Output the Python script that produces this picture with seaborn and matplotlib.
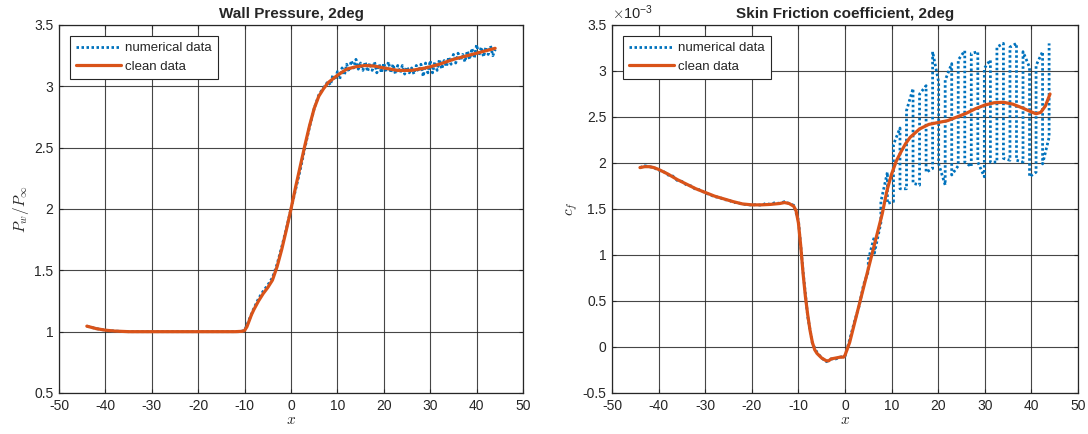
import numpy as np
import pandas as pd
import matplotlib
matplotlib.use("Agg")
import matplotlib.pyplot as plt
from matplotlib.ticker import FuncFormatter, MultipleLocator
import seaborn as sns

# ---------------- wall pressure, P_w / P_inf ----------------
p_clean_x = [-44, -42, -40, -38, -35, -30, -25, -20, -15, -12, -10.5, -10, -9.5, -9, -8.5,
             -8, -7, -6, -5, -4, -3, -2, -1, 0, 1, 2, 3, 4, 5, 6, 7, 8, 9, 10, 12, 14,
             16, 18, 20, 23, 26, 29, 32, 35, 38, 41, 44]
p_clean_y = [1.045, 1.025, 1.012, 1.005, 1.0, 1.0, 1.0, 1.0, 1.0, 1.0, 1.003, 1.01, 1.04,
             1.09, 1.14, 1.18, 1.25, 1.31, 1.36, 1.42, 1.53, 1.67, 1.83, 2.0, 2.18, 2.35,
             2.52, 2.68, 2.82, 2.92, 2.98, 3.03, 3.06, 3.09, 3.14, 3.16, 3.17, 3.165, 3.15,
             3.13, 3.13, 3.15, 3.18, 3.22, 3.25, 3.28, 3.31]

# stations: unit spacing upstream, half-unit spacing downstream of x = 8
p_num_x = np.concatenate([np.arange(-44, 8, 1.0), np.arange(8, 44.5, 0.5)])
p_num_y = [1.045, 1.035, 1.025, 1.018, 1.012, 1.008, 1.005, 1.003, 1.001,
           1.0, 1.0, 1.0, 1.0, 1.0, 1.0, 1.0, 1.0, 1.0, 1.0, 1.0, 1.0, 1.0, 1.0, 1.0,
           1.0, 1.0, 1.0, 1.0, 1.0, 1.0, 1.0, 1.0, 1.0, 1.0,
           1.01, 1.10, 1.19, 1.27, 1.33, 1.38, 1.44, 1.55, 1.69, 1.84, 2.0, 2.16,
           2.32, 2.50, 2.67, 2.82, 2.93, 2.99,
           3.04, 3.01, 3.09, 3.05, 3.12, 3.06, 3.15, 3.09, 3.18, 3.12, 3.21, 3.15,
           3.22, 3.14, 3.19, 3.13, 3.20, 3.12, 3.19, 3.13, 3.20, 3.11, 3.18, 3.11,
           3.19, 3.12, 3.20, 3.11, 3.18, 3.10, 3.17, 3.11, 3.17, 3.10, 3.16, 3.11,
           3.15, 3.10, 3.17, 3.12, 3.18, 3.08, 3.19, 3.11, 3.21, 3.11, 3.20, 3.13,
           3.22, 3.14, 3.21, 3.16, 3.24, 3.18, 3.26, 3.19, 3.27, 3.21, 3.26, 3.20,
           3.29, 3.22, 3.31, 3.23, 3.34, 3.25, 3.32, 3.24, 3.32, 3.26, 3.33, 3.25,
           3.30]

# ---------------- skin friction, c_f (x 1e-3) ----------------
cf_clean_x = [-44, -43, -42, -41, -40, -38, -36, -34, -32, -30, -28, -26, -24, -22, -20,
              -18, -16, -14, -13, -12, -11, -10.5, -10, -9.5, -9, -8.5, -8, -7.5, -7,
              -6.5, -6, -5, -4, -3.5, -3, -2, -1, -0.3, 0, 1, 2, 3, 4, 5, 6, 7, 8, 9,
              10, 11, 12, 13, 14, 16, 18, 20, 22, 24, 26, 28, 30, 32, 34, 36, 38, 40,
              41, 42, 43, 44]
cf_clean_y = [1.95, 1.96, 1.96, 1.95, 1.93, 1.88, 1.82, 1.77, 1.72, 1.68, 1.64, 1.61,
              1.58, 1.555, 1.545, 1.545, 1.55, 1.56, 1.57, 1.56, 1.53, 1.48, 1.35, 1.1,
              0.8, 0.55, 0.35, 0.18, 0.05, -0.03, -0.07, -0.12, -0.15, -0.15, -0.13,
              -0.12, -0.11, -0.11, -0.09, 0.05, 0.25, 0.45, 0.65, 0.85, 1.05, 1.25,
              1.45, 1.7, 1.88, 2.02, 2.12, 2.21, 2.28, 2.37, 2.42, 2.44, 2.46, 2.50,
              2.54, 2.59, 2.63, 2.655, 2.66, 2.64, 2.60, 2.555, 2.535, 2.55, 2.62, 2.75]

cf_smooth_x = np.arange(-44, 5, 1.0)
cf_smooth_y = [1.95, 1.97, 1.96, 1.95, 1.92, 1.91, 1.87, 1.86, 1.81, 1.80, 1.76, 1.75,
               1.71, 1.71, 1.67, 1.66, 1.63, 1.63, 1.60, 1.60, 1.57, 1.57, 1.55, 1.55,
               1.54, 1.55, 1.54, 1.56, 1.55, 1.57, 1.56, 1.58, 1.56, 1.54, 1.38, 0.82,
               0.33, 0.04, -0.06, -0.12, -0.16, -0.13, -0.13, -0.11, -0.10, 0.08, 0.27,
               0.44, 0.68]

# spanwise spread at each downstream station
cf_band_x = [5.0, 6.3, 7.7, 9.1, 10.4, 11.8, 13.2, 14.6, 16.0, 17.4, 18.8, 20.1, 21.5,
             22.9, 24.3, 25.7, 27.1, 28.5, 29.9, 31.2, 32.6, 34.0, 35.4, 36.8, 38.2,
             39.6, 41.0, 42.4, 43.8]
cf_band_lo = [0.82, 1.02, 1.35, 1.56, 1.58, 1.72, 1.72, 1.78, 1.76, 1.90, 1.94, 1.99,
              1.76, 1.87, 1.97, 2.01, 1.96, 2.01, 1.85, 2.01, 2.01, 2.05, 2.03, 2.03,
              2.01, 1.85, 1.90, 1.99, 2.28]
cf_band_hi = [0.95, 1.20, 1.58, 1.90, 2.20, 2.38, 2.57, 2.81, 2.75, 2.84, 3.21, 2.88,
              2.90, 3.08, 3.12, 3.22, 3.19, 3.21, 3.03, 3.12, 3.26, 3.30, 3.26, 3.30,
              3.21, 3.04, 3.06, 3.21, 3.30]

# trace the numerical curve through each station's spread, alternating direction
band_x, band_y = [], []
for i, (bx, lo, hi) in enumerate(zip(cf_band_x, cf_band_lo, cf_band_hi)):
    pair = (lo, hi) if i % 2 == 0 else (hi, lo)
    band_x += [bx, bx]
    band_y += list(pair)
cf_num_x = np.concatenate([cf_smooth_x, band_x])
cf_num_y = np.concatenate([cf_smooth_y, band_y])

BLUE = "#0072BD"
ORANGE = "#D95319"
DOTTED = (0, (0.9, 0.9))

sns.set_style("white")
plt.rcParams["font.family"] = ["Liberation Sans", "DejaVu Sans"]
plt.rcParams["mathtext.fontset"] = "cm"
plt.rcParams["axes.unicode_minus"] = False

fig = plt.figure(figsize=(10.88, 4.34), dpi=100)
ax1 = fig.add_axes([59 / 1088, 41 / 434, 464 / 1088, 368 / 434])
ax2 = fig.add_axes([612 / 1088, 41 / 434, 466 / 1088, 368 / 434])

fmt = FuncFormatter(lambda v, pos: f"{v:g}")


def style_axes(ax, ylim, title, ylabel):
    ax.set_xlim(-50, 50)
    ax.set_ylim(*ylim)
    ax.xaxis.set_major_locator(MultipleLocator(10))
    ax.yaxis.set_major_locator(MultipleLocator(0.5))
    ax.xaxis.set_major_formatter(fmt)
    ax.yaxis.set_major_formatter(fmt)
    ax.grid(True, color="#262626", linewidth=0.8, alpha=0.85)
    ax.set_axisbelow(True)
    for s in ax.spines.values():
        s.set_color("#262626")
        s.set_linewidth(0.9)
        s.set_visible(True)
    ax.tick_params(direction="in", length=3, width=0.8, colors="#262626",
                   labelcolor="#262626", labelsize=10, top=True, right=True,
                   bottom=True, left=True, pad=4)
    ax.set_title(title, fontsize=11, fontweight="bold", pad=5)
    ax.set_xlabel("$x$", fontsize=11, labelpad=0)
    ax.set_ylabel(ylabel, fontsize=11, labelpad=2)
    ax.legend(loc="upper left", bbox_to_anchor=(0.0, 1.0), borderaxespad=0.85,
              fancybox=False, edgecolor="#262626", framealpha=1, fontsize=9.5,
              handlelength=3.4, handletextpad=0.3, borderpad=0.45,
              labelspacing=0.45)
    ax.get_legend().get_frame().set_linewidth(0.8)


# left panel: wall pressure
sns.lineplot(x=p_num_x, y=p_num_y, ax=ax1, sort=False, estimator=None,
             color=BLUE, linestyle=DOTTED, linewidth=2, label="numerical data")
sns.lineplot(x=p_clean_x, y=p_clean_y, ax=ax1, sort=False, estimator=None,
             color=ORANGE, linewidth=2.3, label="clean data")
style_axes(ax1, (0.5, 3.5), "Wall Pressure, 2deg", r"$P_w/P_\infty$")

# right panel: skin friction
sns.lineplot(x=cf_num_x, y=cf_num_y, ax=ax2, sort=False, estimator=None,
             color=BLUE, linestyle=DOTTED, linewidth=2, label="numerical data")
sns.lineplot(x=cf_clean_x, y=cf_clean_y, ax=ax2, sort=False, estimator=None,
             color=ORANGE, linewidth=2.3, label="clean data")
style_axes(ax2, (-0.5, 3.5), "Skin Friction coefficient, 2deg", "$c_f$")
ax2.text(0.0, 1.008, r"$\times\mathregular{10^{-3}}$", transform=ax2.transAxes,
         fontsize=10.5, color="#262626", ha="left", va="bottom")

fig.savefig("out.png", dpi=100)
